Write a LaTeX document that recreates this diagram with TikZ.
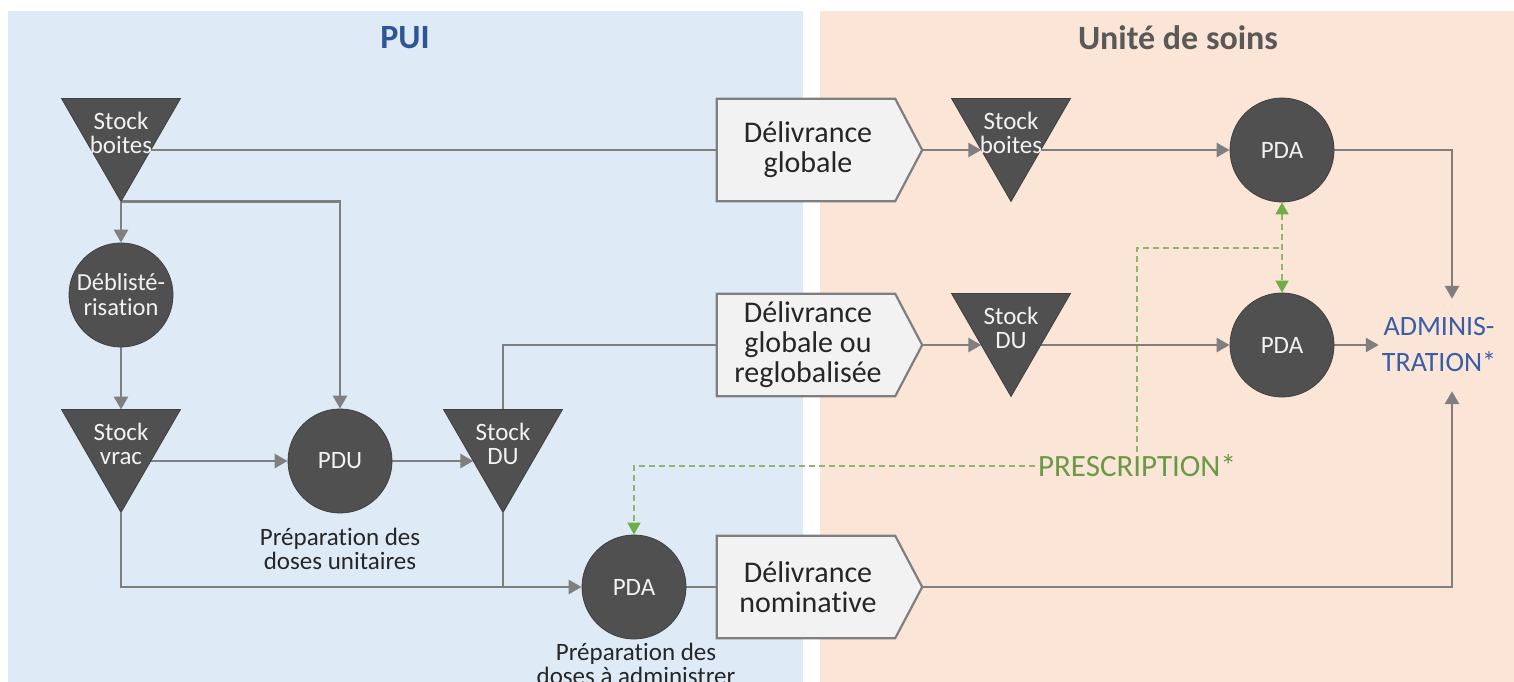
\documentclass[tikz,border=0pt]{standalone}
\usepackage{fontspec}
\setmainfont{Carlito}[Ligatures={NoCommon,NoRare,NoDiscretionary}]
\usetikzlibrary{arrows.meta,calc,shapes.geometric}

\definecolor{puibg}{HTML}{DEEBF7}
\definecolor{usbg}{HTML}{FBE5D6}
\definecolor{nodegray}{HTML}{505050}
\definecolor{nodeedge}{HTML}{3F3F3F}
\definecolor{flowgray}{HTML}{7F7F7F}
\definecolor{boxfill}{HTML}{F2F2F2}
\definecolor{boxedge}{HTML}{7F7F7F}
\definecolor{puititle}{HTML}{2F5597}
\definecolor{ustitle}{HTML}{595959}
\definecolor{admintext}{HTML}{3A5DA8}
\definecolor{presctext}{HTML}{6A9A45}
\definecolor{prescline}{HTML}{8DB86A}
\definecolor{presctip}{HTML}{70AD47}
\definecolor{captext}{HTML}{262626}

\pgfdeclarelayer{panels}
\pgfdeclarelayer{flows}
\pgfdeclarelayer{boxes}
\pgfsetlayers{panels,flows,boxes,main}

\tikzset{
  stocktri/.style={regular polygon, regular polygon sides=3, shape border rotate=180,
    minimum size=137.4pt, inner sep=-24pt, fill=nodegray, draw=nodeedge, line width=0.8pt,
    text=white!95!black, font=\fontsize{25}{24.5}\selectfont, align=center},
  procnode/.style={circle, minimum size=104pt, inner sep=0pt, fill=nodegray, draw=nodeedge,
    line width=0.8pt, text=white!95!black, font=\fontsize{25}{25}\selectfont, align=center},
  delivbox/.style={minimum width=178pt, minimum height=102pt, inner sep=0pt,
    font=\fontsize{30}{30}\selectfont, align=center, text=captext},
  delivshape/.style={fill=boxfill, draw=boxedge, line width=2.2pt, line join=miter},
  caption/.style={font=\fontsize{25}{24}\selectfont, align=center, text=captext},
  flow/.style={draw=flowgray, line width=2.8pt},
  flowarrow/.style={flow, -{Triangle[length=13pt,width=14pt]}},
  rxline/.style={draw=prescline, line width=1.5pt, dash pattern=on 6pt off 4pt},
  rxtip/.style={-{Triangle[length=12pt,width=13pt,fill=presctip,color=presctip]}},
  rxboth/.style={{Triangle[length=12pt,width=13pt,fill=presctip,color=presctip]}-{Triangle[length=12pt,width=13pt,fill=presctip,color=presctip]}},
  paneltitle/.style={font=\fontsize{34}{38}\selectfont\bfseries},
}

\begin{document}
\begin{tikzpicture}[x=1pt,y=-1pt]
\useasboundingbox (0,0) rectangle (1514,682);
\clip (0,0) rectangle (1514,682);

% two zones: pharmacy and care unit
\begin{pgfonlayer}{panels}
  \fill[white] (0,0) rectangle (1514,682);
  \fill[puibg] (8,11) rectangle (803,682);
  \fill[usbg] (820,11) rectangle (1514,682);
\end{pgfonlayer}

\node[paneltitle, text=puititle] (tpui) at (405,38) {PUI};
\node[paneltitle, text=ustitle] (tus) at (1178,38) {Unité de soins};

% stocks (triangles placed at their centroid)
\node[stocktri] (sbp) at (121,132.8) {Stock\\boites};
\node[stocktri] (svr) at (121,443.8) {Stock\\vrac};
\node[stocktri] (sdp) at (503,443.8) {Stock\\DU};
\node[stocktri] (sbu) at (1011,132.8) {Stock\\boites};
\node[stocktri] (sdu) at (1011,327.8) {Stock\\DU};

\foreach \t in {sbp,svr,sdp,sbu,sdu}{
  \coordinate (\t-apex) at ($(\t.center)+(0,68.7)$);
  \coordinate (\t-top) at ($(\t.center)+(0,-34.3)$);
  \coordinate (\t-left) at ($(\t.center)+(-29.75,17.2)$);
  \coordinate (\t-right) at ($(\t.center)+(29.75,17.2)$);
}

% processes
\node[procnode, font=\fontsize{24.5}{25}\selectfont] (deb) at (121,295) {Déblisté-\\risation};
\node[procnode] (pdu) at (340,461) {PDU};
\node[procnode] (pdap) at (634,587) {PDA};
\node[procnode] (pda1) at (1282,150) {PDA};
\node[procnode] (pda2) at (1282,345) {PDA};

\node[caption] (cpdu) at (340,549) {Préparation des\\doses unitaires};
\node[caption] (cpda) at (636,664) {Préparation des\\doses à administrer};

% dispensing modes
\node[delivbox] (dg) at (808,150) {Délivrance\\globale};
\node[delivbox] (dgr) at (808,345) {Délivrance\\globale ou\\reglobalisée};
\node[delivbox] (dn) at (808,587) {Délivrance\\nominative};

\begin{pgfonlayer}{boxes}
\foreach \b in {dg,dgr,dn}{
  \draw[delivshape] ($(\b.north west)+(-2,0)$) -- ($(\b.north east)+(-2,0)$) -- ($(\b.east)+(25,0)$)
    -- ($(\b.south east)+(-2,0)$) -- ($(\b.south west)+(-2,0)$) -- cycle;
  \coordinate (\b-tip) at ($(\b.east)+(25,0)$);
  \coordinate (\b-in) at ($(\b.west)+(-2,0)$);
}
\end{pgfonlayer}

% endpoints
\node[font=\fontsize{28}{36}\selectfont, text=admintext, align=center,
      minimum height=92pt, inner ysep=0pt, inner xsep=3pt] (adm) at (1439,345) {ADMINIS-\\TRATION*};
\coordinate (adm-top) at ($(adm.north)+(13,0)$);
\coordinate (adm-bot) at ($(adm.south)+(13,0)$);

\node[font=\fontsize{31}{32}\selectfont, text=presctext, inner sep=3pt] (rx) at (1137,466) {PRESCRIPTION*};
\coordinate (rx-fork) at (1282,248);

% product flows
\begin{pgfonlayer}{flows}
  \draw[flow] (sbp-right) -- (dg-in);
  \draw[flowarrow] (dg-tip) -- (sbu-left);
  \draw[flowarrow] (sbu-right) -- (pda1.west);
  \draw[flowarrow] (pda1.east) -| (adm-top);

  \draw[flowarrow] (sbp-apex) -- (deb.north);
  \draw[flowarrow] (sbp-apex) -| (pdu.north);
  \draw[flowarrow] (deb.south) -- (svr-top);
  \draw[flowarrow] (svr-right) -- (pdu.west);
  \draw[flowarrow] (pdu.east) -- (sdp-left);
  \draw[flowarrow] (svr-apex) |- (pdap.west);
  \draw[flow] (sdp-apex) -- (sdp-apex |- pdap.west);

  \draw[flow] (sdp-top) |- (dgr-in);
  \draw[flowarrow] (dgr-tip) -- (sdu-left);
  \draw[flowarrow] (sdu-right) -- (pda2.west);
  \draw[flowarrow] (pda2.east) -- (adm.west);

  \draw[flow] (pdap.east) -- (dn-in);
  \draw[flowarrow] (dn-tip) -| (adm-bot);

  % prescription links
  \draw[rxline, rxtip] (rx.west) -| (pdap.north);
  \draw[rxline] (rx.north) |- (rx-fork);
  \draw[rxline, rxboth] (pda1.south) -- (pda2.north);
\end{pgfonlayer}
\end{tikzpicture}
\end{document}
